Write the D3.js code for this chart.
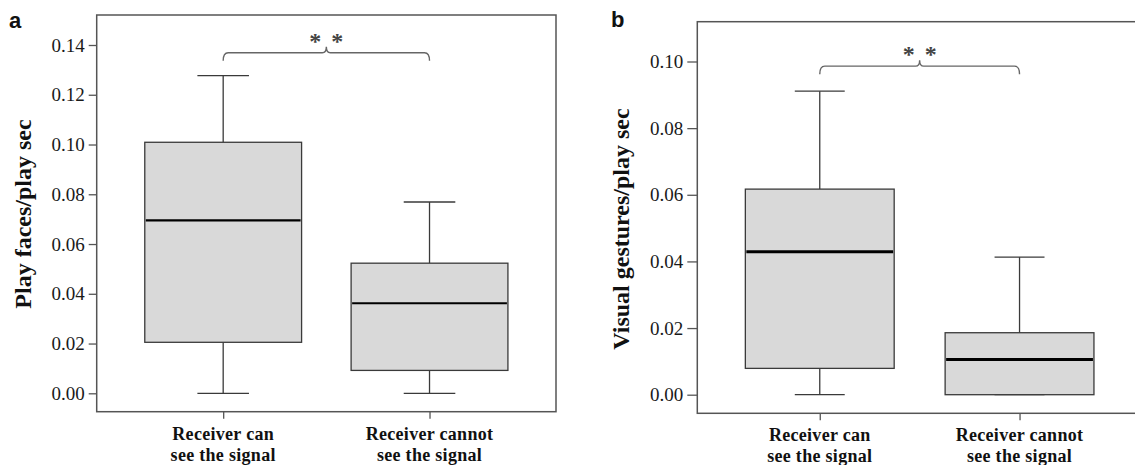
<!DOCTYPE html>
<html>
<head>
<meta charset="utf-8">
<script src="https://cdn.jsdelivr.net/npm/d3@7/dist/d3.min.js"></script>
<style>
  html, body { margin: 0; padding: 0; background: #fff; }
  svg { display: block; }
</style>
</head>
<body>
<svg id="chart" width="1135" height="465"></svg>
<script>
// Two-line category labels shared by both panels
const categoryLines = [
  ["Receiver can", "see the signal"],
  ["Receiver cannot", "see the signal"]
];

// Panel a: play faces per play second (five-number summaries per condition)
const playFacesMin    = [0.0, 0.0];
const playFacesQ1     = [0.0205, 0.0092];
const playFacesMedian = [0.0695, 0.0362];
const playFacesQ3     = [0.1009, 0.0523];
const playFacesMax    = [0.1277, 0.0769];
const playFacesTicks  = [0.00, 0.02, 0.04, 0.06, 0.08, 0.10, 0.12, 0.14];

// Panel b: visual gestures per play second
const gesturesMin    = [0.0, 0.0];
const gesturesQ1     = [0.0079, 0.0];
const gesturesMedian = [0.0429, 0.0106];
const gesturesQ3     = [0.0617, 0.0186];
const gesturesMax    = [0.0911, 0.0413];
const gesturesTicks  = [0.00, 0.02, 0.04, 0.06, 0.08, 0.10];

const svg = d3.select("#chart");
const serif = "Liberation Serif";
const lineColor = "#3a3a3a";
const frameColor = "#555";

function drawPanel(cfg) {
  const g = svg.append("g");
  const { left, right, top, bottom } = cfg.frame;

  const x = d3.scalePoint()
    .domain(d3.range(categoryLines.length))
    .range([left, right])
    .padding(0.613);
  const step = x.step();

  const y = d3.scaleLinear()
    .domain([cfg.ticks[0], cfg.ticks[cfg.ticks.length - 1]])
    .range(cfg.yRange);

  // Frame
  g.append("rect")
    .attr("x", left).attr("y", top)
    .attr("width", right - left).attr("height", bottom - top)
    .attr("fill", "none").attr("stroke", frameColor).attr("stroke-width", 1.5);

  // Y axis
  const yAxis = g.append("g")
    .attr("transform", `translate(${left},0)`)
    .call(d3.axisLeft(y).tickValues(cfg.ticks).tickFormat(d3.format(".2f"))
      .tickSize(cfg.tickLen).tickPadding(4));
  yAxis.attr("font-family", serif).attr("font-size", 19);
  yAxis.select(".domain").remove();
  yAxis.selectAll(".tick line").attr("stroke", frameColor).attr("stroke-width", 1.3);
  yAxis.selectAll(".tick text").attr("fill", "#1a1a1a");

  // X axis ticks and category labels
  const xAxis = g.append("g")
    .attr("transform", `translate(0,${bottom})`)
    .call(d3.axisBottom(x).tickSize(7).tickFormat(""));
  xAxis.select(".domain").remove();
  xAxis.selectAll(".tick line").attr("stroke", frameColor).attr("stroke-width", 1.3);

  categoryLines.forEach((lines, i) => {
    lines.forEach((txt, j) => {
      g.append("text")
        .attr("x", x(i))
        .attr("y", cfg.labelBaselines[j])
        .attr("text-anchor", "middle")
        .attr("font-family", serif)
        .attr("font-weight", "bold")
        .attr("font-size", 18)
        .attr("letter-spacing", 0.3)
        .attr("fill", "#111")
        .text(txt);
    });
  });

  // Boxes
  const boxW = step * cfg.boxFrac;
  const capW = step * 0.25;
  const idx = d3.range(categoryLines.length);

  const boxes = g.selectAll(".box").data(idx).join("g").attr("class", "box");

  boxes.append("line")
    .attr("x1", i => x(i)).attr("x2", i => x(i))
    .attr("y1", i => y(cfg.max[i])).attr("y2", i => y(cfg.q3[i]))
    .attr("stroke", lineColor).attr("stroke-width", 1.3);
  boxes.append("line")
    .attr("x1", i => x(i)).attr("x2", i => x(i))
    .attr("y1", i => y(cfg.q1[i])).attr("y2", i => y(cfg.min[i]))
    .attr("stroke", lineColor).attr("stroke-width", 1.3);
  boxes.append("line")
    .attr("x1", i => x(i) - capW / 2).attr("x2", i => x(i) + capW / 2)
    .attr("y1", i => y(cfg.max[i])).attr("y2", i => y(cfg.max[i]))
    .attr("stroke", lineColor).attr("stroke-width", 1.3);
  boxes.append("line")
    .attr("x1", i => x(i) - capW / 2).attr("x2", i => x(i) + capW / 2)
    .attr("y1", i => y(cfg.min[i])).attr("y2", i => y(cfg.min[i]))
    .attr("stroke", lineColor).attr("stroke-width", 1.3);

  boxes.append("rect")
    .attr("x", i => x(i) - boxW / 2)
    .attr("width", boxW)
    .attr("y", i => y(cfg.q3[i]))
    .attr("height", i => y(cfg.q1[i]) - y(cfg.q3[i]))
    .attr("fill", "#d9d9d9")
    .attr("stroke", lineColor).attr("stroke-width", 1.3);

  boxes.append("line")
    .attr("x1", i => x(i) - boxW / 2 + 1).attr("x2", i => x(i) + boxW / 2 - 1)
    .attr("y1", i => y(cfg.median[i])).attr("y2", i => y(cfg.median[i]))
    .attr("stroke", "#000").attr("stroke-width", cfg.medianWidth);

  // Significance brace between the two groups
  const L = x(0), R = x(1), mid = (L + R) / 2, yb = y(cfg.braceAt);
  const braceColor = "#666";
  g.append("path")
    .attr("d",
      `M${L},${yb + 8} Q${L},${yb} ${L + 5},${yb} ` +
      `H${mid - 4} Q${mid},${yb} ${mid},${yb - 6} ` +
      `Q${mid},${yb} ${mid + 4},${yb} ` +
      `H${R - 5} Q${R},${yb} ${R},${yb + 8}`)
    .attr("fill", "none").attr("stroke", braceColor).attr("stroke-width", 1.4);
  [-11, 11].forEach(dx => {
    g.append("text")
      .attr("x", mid + dx).attr("y", yb - 4)
      .attr("text-anchor", "middle")
      .attr("font-family", serif).attr("font-weight", "bold").attr("font-size", 24)
      .attr("fill", "#444")
      .text("*");
  });

  // Axis title
  g.append("text")
    .attr("transform", `translate(${cfg.titleX},${cfg.titleY}) rotate(-90)`)
    .attr("text-anchor", "middle")
    .attr("dominant-baseline", "central")
    .attr("font-family", serif).attr("font-weight", "bold")
    .attr("font-size", 24).attr("fill", "#111")
    .text(cfg.title);

  // Panel letter
  svg.append("text")
    .attr("x", cfg.letterX).attr("y", cfg.letterY)
    .attr("font-family", "Liberation Sans")
    .attr("font-weight", "bold").attr("font-size", 22).attr("fill", "#111")
    .text(cfg.letter);
}

drawPanel({
  letter: "a", letterX: 9, letterY: 28,
  title: "Play faces/play sec", titleX: 23, titleY: 214,
  frame: { left: 96.7, right: 556, top: 15, bottom: 411.7 },
  yRange: [393.3, 45],
  ticks: playFacesTicks, tickLen: 8,
  min: playFacesMin, q1: playFacesQ1, median: playFacesMedian, q3: playFacesQ3, max: playFacesMax,
  boxFrac: 0.76, medianWidth: 2.2,
  braceAt: 0.1369,
  labelBaselines: [440, 461]
});

drawPanel({
  letter: "b", letterX: 611, letterY: 27,
  title: "Visual gestures/play sec", titleX: 621, titleY: 229,
  frame: { left: 697.3, right: 1142, top: 21.7, bottom: 413.3 },
  yRange: [394.7, 61.5],
  ticks: gesturesTicks, tickLen: 10,
  min: gesturesMin, q1: gesturesQ1, median: gesturesMedian, q3: gesturesQ3, max: gesturesMax,
  boxFrac: 0.745, medianWidth: 3,
  braceAt: 0.0986,
  labelBaselines: [441, 462]
});
</script>
</body>
</html>
